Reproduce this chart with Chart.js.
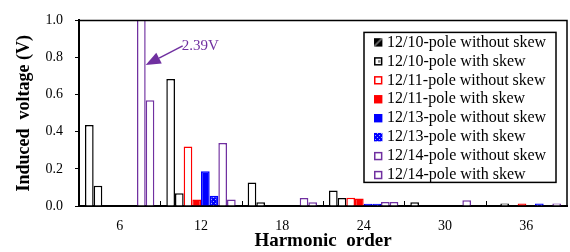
<!DOCTYPE html>
<html><head><meta charset="utf-8">
<script src="https://cdn.jsdelivr.net/npm/chart.js@4/dist/chart.umd.min.js"></script>
<style>html,body{margin:0;padding:0;background:#fff;}#wrap{width:570px;height:252px;}</style>
</head><body><div id="wrap"><canvas id="c" width="570" height="252"></canvas></div>
<script>
// ---- data ----
const categories = ['6', '12', '18', '24', '30', '36'];
const s10NoSkew  = [0.437, 0.684, 0.126, 0.083, 0.02, 0];
const s10Skew    = [0.109, 0.069, 0.02, 0.043, 0, 0.013];
const s11NoSkew  = [0, 0.32, 0, 0.045, 0, 0];
const s11Skew    = [0, 0.035, 0, 0.04, 0, 0.013];
const s13NoSkew  = [0, 0.187, 0, 0.012, 0, 0];
const s13Skew    = [0, 0.055, 0, 0.012, 0, 0.013];
const s14NoSkew  = [2.39, 0.34, 0.043, 0.022, 0.031, 0];
const s14Skew    = [0.57, 0.035, 0.02, 0.022, 0, 0.013];
const seriesNames = [
  '12/10-pole without skew', '12/10-pole with skew',
  '12/11-pole without skew', '12/11-pole with skew',
  '12/13-pole without skew', '12/13-pole with skew',
  '12/14-pole without skew', '12/14-pole with skew'
];
const yTicks = [0, 0.2, 0.4, 0.6, 0.8, 1.0];
const peakLabel = '2.39V';

const PURPLE = '#7030A0', RED = '#FF0000', BLUE = '#0000FF';
const SERIF = '"Liberation Serif", "Times New Roman", serif';

// dotted blue pattern for 12/13 with skew
function bluePattern() {
  const p = document.createElement('canvas'); p.width = 4; p.height = 4;
  const g = p.getContext('2d');
  g.fillStyle = BLUE; g.fillRect(0, 0, 4, 4);
  g.fillStyle = '#9fa8ff'; g.fillRect(1, 1, 1, 1); g.fillRect(3, 3, 1, 1);
  return g.createPattern(p, 'repeat');
}
const ctx0 = document.getElementById('c').getContext('2d');
const bluePat = bluePattern(ctx0);

const styles = [
  {bg: '#ffffff', border: '#000000'},
  {bg: '#ffffff', border: '#000000'},
  {bg: '#ffffff', border: RED},
  {bg: RED, border: RED},
  {bg: BLUE, border: BLUE},
  {bg: bluePat, border: BLUE},
  {bg: '#ffffff', border: PURPLE},
  {bg: '#ffffff', border: PURPLE}
];
const allSeries = [s10NoSkew, s10Skew, s11NoSkew, s11Skew, s13NoSkew, s13Skew, s14NoSkew, s14Skew];

const datasets = allSeries.map((d, i) => ({
  label: seriesNames[i],
  data: d,
  backgroundColor: styles[i].bg,
  borderColor: styles[i].border,
  borderWidth: 1.5,
  categoryPercentage: 0.853,
  barPercentage: 1.0
}));

const decor = {
  id: 'decor',
  afterDatasetsDraw(chart) {
    const {ctx, chartArea: ca, scales} = chart;
    const xs = scales.x, ys = scales.y;
    ctx.save();
    // frame top/right
    ctx.strokeStyle = '#000'; ctx.lineWidth = 1.5;
    ctx.beginPath();
    ctx.moveTo(ca.left, ca.top); ctx.lineTo(ca.right, ca.top); ctx.lineTo(ca.right, ca.bottom);
    ctx.stroke();
    // inward tick marks at category boundaries
    ctx.lineWidth = 1;
    const n = categories.length;
    for (let i = 1; i < n; i++) {
      const xp = Math.round((xs.getPixelForValue(i - 1) + xs.getPixelForValue(i)) / 2) + 0.5;
      ctx.beginPath(); ctx.moveTo(xp, ca.bottom); ctx.lineTo(xp, ca.bottom - 5); ctx.stroke();
    }
    // annotation arrow for the clipped peak
    const meta = chart.getDatasetMeta(6);
    const el = meta.data[0];
    const tipX = el.x + el.width / 2;
    const tipY = ys.getPixelForValue(0.76);
    const sx = tipX + 37, sy = tipY - 19;
    const ang = Math.atan2(sy - tipY, sx - tipX);
    const L = 15, W = 6;
    const bx = tipX + Math.cos(ang) * L, by = tipY + Math.sin(ang) * L;
    ctx.strokeStyle = PURPLE; ctx.fillStyle = PURPLE; ctx.lineWidth = 1.5;
    ctx.beginPath(); ctx.moveTo(sx, sy); ctx.lineTo(bx, by); ctx.stroke();
    ctx.beginPath();
    ctx.moveTo(tipX, tipY);
    ctx.lineTo(bx - Math.sin(ang) * W, by + Math.cos(ang) * W);
    ctx.lineTo(bx + Math.sin(ang) * W, by - Math.cos(ang) * W);
    ctx.closePath(); ctx.fill();
    ctx.font = '15px ' + SERIF;
    ctx.textBaseline = 'alphabetic'; ctx.textAlign = 'left';
    ctx.fillText(peakLabel, tipX + 36, tipY - 15);
    // legend box
    const lx = ca.right - 203, ly = ca.top + 12, lw = 192, lh = 150;
    ctx.fillStyle = '#fff'; ctx.fillRect(lx, ly, lw, lh);
    ctx.strokeStyle = '#000'; ctx.lineWidth = 1.5; ctx.strokeRect(lx, ly, lw, lh);
    ctx.font = '16px ' + SERIF; ctx.textBaseline = 'middle';
    seriesNames.forEach((name, i) => {
      const cy = ly + 10 + i * 18.95;
      const bx0 = lx + 10, by0 = cy - 4.2, s = 8.4;
      const st = styles[i];
      if (i === 0) {
        const g = ctx.createLinearGradient(bx0, by0, bx0 + s, by0 + s);
        g.addColorStop(0, '#000'); g.addColorStop(0.35, '#000'); g.addColorStop(0.5, '#777'); g.addColorStop(0.62, '#000'); g.addColorStop(1, '#000');
        ctx.fillStyle = g; ctx.fillRect(bx0, by0, s, s);
      } else if (st.bg === '#ffffff') {
        ctx.fillStyle = '#fff'; ctx.fillRect(bx0, by0, s, s);
        ctx.strokeStyle = st.border; ctx.lineWidth = 1.5;
        ctx.strokeRect(bx0 + 0.75, by0 + 0.75, s - 1.5, s - 1.5);
        if (i === 1) { ctx.fillStyle = '#888'; ctx.fillRect(bx0 + 4, by0 + 3, 2.5, 2.5); }
      } else {
        ctx.fillStyle = st.bg; ctx.fillRect(bx0, by0, s, s);
      }
      ctx.fillStyle = '#000';
      ctx.fillText(name, lx + 23, cy);
    });
    ctx.restore();
  }
};

new Chart(document.getElementById('c'), {
  type: 'bar',
  data: {labels: categories, datasets},
  options: {
    responsive: false,
    animation: false,
    layout: {padding: {top: 12, right: 3, left: 0, bottom: 0}},
    plugins: {legend: {display: false}, tooltip: {enabled: false}},
    scales: {
      x: {
        grid: {display: false, drawTicks: false},
        border: {display: true, color: '#000', width: 2},
        ticks: {color: '#000', font: {family: SERIF, size: 14}, padding: 12, maxRotation: 0},
        title: {display: true, text: 'Harmonic  order', color: '#000',
                font: {family: SERIF, size: 19, weight: 'bold'}, padding: {top: 0, bottom: 0}},
        afterFit(s) { s.height = 46; }
      },
      y: {
        min: 0, max: 1,
        afterBuildTicks(s) { s.ticks = yTicks.map(v => ({value: v})); },
        grid: {drawOnChartArea: false, drawTicks: true, tickLength: 4, color: '#000'},
        border: {display: true, color: '#000', width: 2},
        ticks: {color: '#000', font: {family: SERIF, size: 14}, padding: 12,
                callback: v => Number(v).toFixed(1)},
        title: {display: true, text: 'Induced  voltage (V)', color: '#000',
                font: {family: SERIF, size: 18, weight: 'bold'}, padding: {top: 14, bottom: 0}},
        afterFit(s) { s.width = 79; }
      }
    }
  },
  plugins: [decor]
});
</script></body></html>
